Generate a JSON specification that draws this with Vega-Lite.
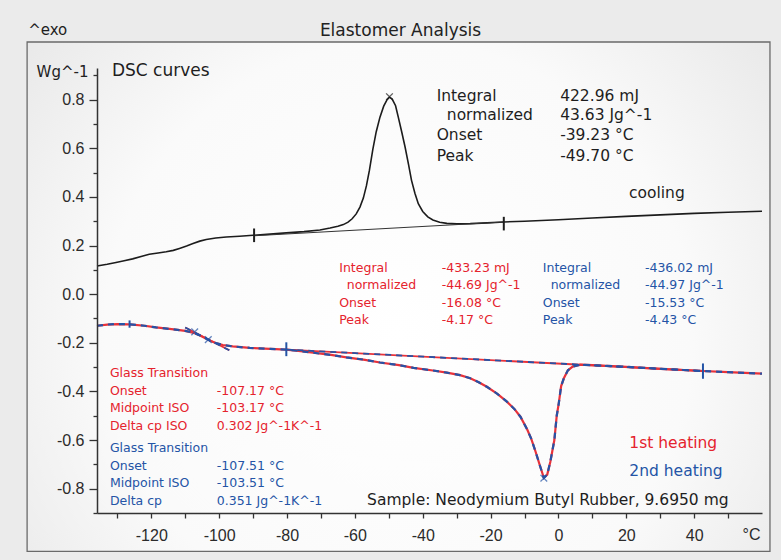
{
  "$schema": "https://vega.github.io/schema/vega-lite/v6.json",
  "width": 665,
  "height": 445,
  "autosize": {"type": "none"},
  "padding": {"left": 97, "top": 68, "right": 19, "bottom": 47},
  "background": "#ebebeb",
  "title": {"text": "Elastomer Analysis", "anchor": "middle", "frame": "group", "dx": -29, "offset": -17, "font": "DejaVu Sans", "fontSize": 17, "fontWeight": "normal", "color": "#222222"},
  "config": {"view": {"stroke": null}, "font": "DejaVu Sans"},
  "datasets": {
    "frame": [{"T": -156.6, "T2": 62.35, "hf": 1.037, "hf2": -1.058}],
    "cooling": [
      {"T": -136, "hf": 0.116}, {"T": -133, "hf": 0.123}, {"T": -130.4, "hf": 0.130}, {"T": -128, "hf": 0.137},
      {"T": -125.5, "hf": 0.145}, {"T": -123, "hf": 0.155}, {"T": -120.6, "hf": 0.164}, {"T": -118, "hf": 0.169},
      {"T": -115.6, "hf": 0.174}, {"T": -113.5, "hf": 0.180}, {"T": -111.7, "hf": 0.188}, {"T": -109.6, "hf": 0.198},
      {"T": -107.7, "hf": 0.208}, {"T": -105.7, "hf": 0.218}, {"T": -103.8, "hf": 0.225}, {"T": -101, "hf": 0.231},
      {"T": -97.9, "hf": 0.235}, {"T": -94, "hf": 0.238}, {"T": -90, "hf": 0.242}, {"T": -85, "hf": 0.247},
      {"T": -80.2, "hf": 0.252}, {"T": -75, "hf": 0.257}, {"T": -70.3, "hf": 0.264}, {"T": -67.3, "hf": 0.272},
      {"T": -65, "hf": 0.279}, {"T": -63.4, "hf": 0.286}, {"T": -62, "hf": 0.296}, {"T": -60.8, "hf": 0.310},
      {"T": -59.6, "hf": 0.330}, {"T": -58.5, "hf": 0.358}, {"T": -57.5, "hf": 0.395}, {"T": -56.6, "hf": 0.445},
      {"T": -55.7, "hf": 0.510}, {"T": -54.7, "hf": 0.595}, {"T": -53.7, "hf": 0.668}, {"T": -52.6, "hf": 0.728},
      {"T": -51.5, "hf": 0.773}, {"T": -50.5, "hf": 0.800}, {"T": -49.8, "hf": 0.810}, {"T": -49, "hf": 0.802},
      {"T": -48, "hf": 0.775}, {"T": -47.2, "hf": 0.728}, {"T": -46.2, "hf": 0.668}, {"T": -45.2, "hf": 0.605},
      {"T": -44.2, "hf": 0.535}, {"T": -43.3, "hf": 0.468}, {"T": -42.3, "hf": 0.415}, {"T": -41.3, "hf": 0.372},
      {"T": -40, "hf": 0.340}, {"T": -38.5, "hf": 0.318}, {"T": -37, "hf": 0.305}, {"T": -35, "hf": 0.296},
      {"T": -32.9, "hf": 0.291}, {"T": -30, "hf": 0.289}, {"T": -26, "hf": 0.290}, {"T": -21, "hf": 0.293},
      {"T": -16.1, "hf": 0.297}, {"T": -10, "hf": 0.300}, {"T": 0, "hf": 0.306}, {"T": 10, "hf": 0.313},
      {"T": 20, "hf": 0.320}, {"T": 30, "hf": 0.326}, {"T": 40, "hf": 0.332}, {"T": 50, "hf": 0.337}, {"T": 60, "hf": 0.341}
    ],
    "heating": [
      {"T": -136, "hf": -0.130}, {"T": -133, "hf": -0.125}, {"T": -130, "hf": -0.123}, {"T": -126.4, "hf": -0.124},
      {"T": -122, "hf": -0.130}, {"T": -118.6, "hf": -0.137}, {"T": -114, "hf": -0.144}, {"T": -110, "hf": -0.151},
      {"T": -107.5, "hf": -0.159}, {"T": -105.8, "hf": -0.169}, {"T": -104.2, "hf": -0.180}, {"T": -102.8, "hf": -0.191},
      {"T": -101, "hf": -0.201}, {"T": -98.9, "hf": -0.209}, {"T": -96, "hf": -0.215}, {"T": -91, "hf": -0.221},
      {"T": -85, "hf": -0.225}, {"T": -80.2, "hf": -0.228}, {"T": -76, "hf": -0.234}, {"T": -72.3, "hf": -0.241},
      {"T": -67, "hf": -0.250}, {"T": -62.5, "hf": -0.260}, {"T": -57, "hf": -0.270}, {"T": -52.6, "hf": -0.281},
      {"T": -47, "hf": -0.292}, {"T": -42.7, "hf": -0.303}, {"T": -37, "hf": -0.314}, {"T": -32.9, "hf": -0.323},
      {"T": -29, "hf": -0.333}, {"T": -26, "hf": -0.346}, {"T": -23.5, "hf": -0.362}, {"T": -21.1, "hf": -0.381},
      {"T": -18, "hf": -0.410}, {"T": -15.2, "hf": -0.442}, {"T": -13, "hf": -0.472}, {"T": -11.2, "hf": -0.504},
      {"T": -9.2, "hf": -0.557}, {"T": -8, "hf": -0.595}, {"T": -6.8, "hf": -0.645}, {"T": -5.3, "hf": -0.712},
      {"T": -4.3, "hf": -0.755}, {"T": -3.3, "hf": -0.742}, {"T": -2.4, "hf": -0.690}, {"T": -1.2, "hf": -0.600},
      {"T": -0.5, "hf": -0.500}, {"T": 0.1, "hf": -0.449}, {"T": 0.8, "hf": -0.378}, {"T": 1.6, "hf": -0.346},
      {"T": 2.8, "hf": -0.313}, {"T": 4.2, "hf": -0.298}, {"T": 6.5, "hf": -0.290}, {"T": 10, "hf": -0.292},
      {"T": 20, "hf": -0.299}, {"T": 30, "hf": -0.307}, {"T": 42.6, "hf": -0.316}, {"T": 50, "hf": -0.321}, {"T": 60, "hf": -0.327}
    ],
    "guides": [
      {"seg": "cbase", "T": -89.7, "hf": 0.240}, {"seg": "cbase", "T": -16.1, "hf": 0.297},
      {"seg": "hbase", "T": -80.2, "hf": -0.228}, {"seg": "hbase", "T": 42.6, "hf": -0.316},
      {"seg": "tg", "T": -110, "hf": -0.137}, {"seg": "tg", "T": -97, "hf": -0.231}
    ],
    "markers": [
      {"T": -89.7, "hf": 0.270, "hf2": 0.214, "tone": "black"},
      {"T": -16.1, "hf": 0.318, "hf2": 0.262, "tone": "black"},
      {"T": -126.4, "hf": -0.108, "hf2": -0.138, "tone": "blue"},
      {"T": -80.2, "hf": -0.198, "hf2": -0.255, "tone": "blue"},
      {"T": 42.6, "hf": -0.285, "hf2": -0.348, "tone": "blue"}
    ],
    "peaks": [
      {"T": -49.8, "hf": 0.812, "tone": "black"},
      {"T": -4.3, "hf": -0.757, "tone": "blue"},
      {"T": -107.2, "hf": -0.155, "tone": "blue"},
      {"T": -103.2, "hf": -0.187, "tone": "blue"}
    ],
    "labels": [
      {"text": "^exo", "T": -156.3, "hf": 1.086, "tone": "black", "style": "axis"},
      {"text": "DSC curves", "T": -131.6, "hf": 0.918, "tone": "black", "style": "head"},
      {"text": "Integral", "T": -35.9, "hf": 0.815, "tone": "black", "style": "main"},
      {"text": "normalized", "T": -32.9, "hf": 0.737, "tone": "black", "style": "main"},
      {"text": "Onset", "T": -35.9, "hf": 0.654, "tone": "black", "style": "main"},
      {"text": "Peak", "T": -35.9, "hf": 0.569, "tone": "black", "style": "main"},
      {"text": "422.96 mJ", "T": 0.5, "hf": 0.815, "tone": "black", "style": "main"},
      {"text": "43.63 Jg^-1", "T": 0.5, "hf": 0.737, "tone": "black", "style": "main"},
      {"text": "-39.23 °C", "T": 0.5, "hf": 0.654, "tone": "black", "style": "main"},
      {"text": "-49.70 °C", "T": 0.5, "hf": 0.569, "tone": "black", "style": "main"},
      {"text": "cooling", "T": 20.8, "hf": 0.416, "tone": "black", "style": "main"},
      {"text": "Integral", "T": -64.6, "hf": 0.106, "tone": "red", "style": "small"},
      {"text": "normalized", "T": -62.4, "hf": 0.038, "tone": "red", "style": "small"},
      {"text": "Onset", "T": -64.6, "hf": -0.035, "tone": "red", "style": "small"},
      {"text": "Peak", "T": -64.6, "hf": -0.106, "tone": "red", "style": "small"},
      {"text": "-433.23 mJ", "T": -34.4, "hf": 0.106, "tone": "red", "style": "small"},
      {"text": "-44.69 Jg^-1", "T": -34.4, "hf": 0.038, "tone": "red", "style": "small"},
      {"text": "-16.08 °C", "T": -34.4, "hf": -0.035, "tone": "red", "style": "small"},
      {"text": "-4.17 °C", "T": -34.4, "hf": -0.106, "tone": "red", "style": "small"},
      {"text": "Integral", "T": -4.6, "hf": 0.106, "tone": "blue", "style": "small"},
      {"text": "normalized", "T": -2.3, "hf": 0.038, "tone": "blue", "style": "small"},
      {"text": "Onset", "T": -4.6, "hf": -0.035, "tone": "blue", "style": "small"},
      {"text": "Peak", "T": -4.6, "hf": -0.106, "tone": "blue", "style": "small"},
      {"text": "-436.02 mJ", "T": 25.5, "hf": 0.106, "tone": "blue", "style": "small"},
      {"text": "-44.97 Jg^-1", "T": 25.5, "hf": 0.038, "tone": "blue", "style": "small"},
      {"text": "-15.53 °C", "T": 25.5, "hf": -0.035, "tone": "blue", "style": "small"},
      {"text": "-4.43 °C", "T": 25.5, "hf": -0.106, "tone": "blue", "style": "small"},
      {"text": "Glass Transition", "T": -132.2, "hf": -0.325, "tone": "red", "style": "small"},
      {"text": "Onset", "T": -132.2, "hf": -0.397, "tone": "red", "style": "small"},
      {"text": "Midpoint ISO", "T": -132.2, "hf": -0.469, "tone": "red", "style": "small"},
      {"text": "Delta cp ISO", "T": -132.2, "hf": -0.541, "tone": "red", "style": "small"},
      {"text": "-107.17 °C", "T": -100.7, "hf": -0.397, "tone": "red", "style": "small"},
      {"text": "-103.17 °C", "T": -100.7, "hf": -0.469, "tone": "red", "style": "small"},
      {"text": "0.302 Jg^-1K^-1", "T": -100.7, "hf": -0.541, "tone": "red", "style": "small"},
      {"text": "Glass Transition", "T": -132.2, "hf": -0.634, "tone": "blue", "style": "small"},
      {"text": "Onset", "T": -132.2, "hf": -0.705, "tone": "blue", "style": "small"},
      {"text": "Midpoint ISO", "T": -132.2, "hf": -0.778, "tone": "blue", "style": "small"},
      {"text": "Delta cp", "T": -132.2, "hf": -0.850, "tone": "blue", "style": "small"},
      {"text": "-107.51 °C", "T": -100.7, "hf": -0.705, "tone": "blue", "style": "small"},
      {"text": "-103.51 °C", "T": -100.7, "hf": -0.778, "tone": "blue", "style": "small"},
      {"text": "0.351 Jg^-1K^-1", "T": -100.7, "hf": -0.850, "tone": "blue", "style": "small"},
      {"text": "1st heating", "T": 20.9, "hf": -0.611, "tone": "red", "style": "legend"},
      {"text": "2nd heating", "T": 20.9, "hf": -0.726, "tone": "blue", "style": "legend"},
      {"text": "Sample: Neodymium Butyl Rubber, 9.6950 mg", "T": -56.4, "hf": -0.846, "tone": "black", "style": "main"}
    ]
  },
  "encoding": {
    "x": {
      "field": "T", "type": "quantitative",
      "scale": {"domain": [-136, 60], "nice": false, "zero": false},
      "axis": {
        "title": "°C", "grid": false, "zindex": 1,
        "values": [-130, -120, -110, -100, -90, -80, -70, -60, -50, -40, -30, -20, -10, 0, 10, 20, 30, 40, 50],
        "labelExpr": "datum.value % 20 == 0 ? replace(format(datum.value, 'd'), '\u2212', '-') : ''",
        "tickSize": 5, "tickWidth": 1.3, "tickColor": "#333333",
        "domainColor": "#333333", "domainWidth": 1.5,
        "labelPadding": 9, "labelFont": "Liberation Sans", "labelFontSize": 16, "labelColor": "#2b2b2b",
        "labelFlush": false, "labelOverlap": false,
        "titleFont": "Liberation Sans", "titleFontSize": 16, "titleFontWeight": "normal", "titleColor": "#2b2b2b",
        "titleX": 654, "titleY": 21, "titleAlign": "center", "titleBaseline": "middle"
      }
    },
    "y": {
      "field": "hf", "type": "quantitative",
      "scale": {"domain": [-0.9, 0.93], "nice": false, "zero": false},
      "axis": {
        "title": "Wg^-1", "grid": false, "zindex": 1,
        "values": [-0.9, -0.8, -0.7, -0.6, -0.5, -0.4, -0.3, -0.2, -0.1, 0, 0.1, 0.2, 0.3, 0.4, 0.5, 0.6, 0.7, 0.8, 0.9],
        "labelExpr": "(abs(round(datum.value * 10)) % 2 == 0 && abs(datum.value) < 0.85) ? replace(format(datum.value, '.1f'), '\u2212', '-') : ''",
        "tickSize": {"condition": {"test": "abs(round(datum.value * 10)) % 2 == 0", "value": 8}, "value": 4},
        "tickWidth": 1.3, "tickColor": "#333333",
        "domainColor": "#333333", "domainWidth": 1.5,
        "labelPadding": 5, "labelFont": "Liberation Sans", "labelFontSize": 16, "labelColor": "#2b2b2b",
        "labelFlush": false, "labelOverlap": false,
        "titleFont": "DejaVu Sans", "titleFontSize": 15, "titleFontWeight": "normal", "titleColor": "#222222",
        "titleAngle": 0, "titleX": -9, "titleY": 3, "titleAlign": "right", "titleBaseline": "middle"
      }
    }
  },
  "layer": [
    {
      "data": {"name": "frame"},
      "mark": {
        "type": "rect", "stroke": "#6a6a6a", "strokeWidth": 1.3,
        "fill": {"gradient": "radial", "x1": 0.5, "y1": 0.55, "r1": 0, "x2": 0.5, "y2": 0.55, "r2": 0.72,
          "stops": [{"offset": 0, "color": "#ffffff"}, {"offset": 0.55, "color": "#fafafa"}, {"offset": 1, "color": "#e3e3e3"}]}
      },
      "encoding": {"x2": {"field": "T2"}, "y2": {"field": "hf2"}}
    },
    {
      "data": {"name": "cooling"},
      "mark": {"type": "line", "color": "#1c1c1c", "strokeWidth": 1.6},
      "encoding": {}
    },
    {
      "data": {"name": "guides"},
      "transform": [{"filter": "datum.seg == 'cbase'"}],
      "mark": {"type": "line", "color": "#333333", "strokeWidth": 1.1},
      "encoding": {}
    },
    {
      "data": {"name": "heating"},
      "mark": {"type": "line", "color": "#e8323a", "strokeWidth": 2.2},
      "encoding": {}
    },
    {
      "data": {"name": "guides"},
      "transform": [{"filter": "datum.seg != 'cbase'"}],
      "mark": {"type": "line", "color": "#e8323a", "strokeWidth": 1.8},
      "encoding": {"detail": {"field": "seg"}}
    },
    {
      "data": {"name": "heating"},
      "mark": {"type": "line", "color": "#2653a6", "strokeWidth": 2.2, "strokeDash": [6, 5]},
      "encoding": {}
    },
    {
      "data": {"name": "guides"},
      "transform": [{"filter": "datum.seg != 'cbase'"}],
      "mark": {"type": "line", "color": "#2653a6", "strokeWidth": 1.8, "strokeDash": [6, 5]},
      "encoding": {"detail": {"field": "seg"}}
    },
    {
      "data": {"name": "markers"},
      "mark": {"type": "rule", "strokeWidth": 2},
      "encoding": {
        "y2": {"field": "hf2"},
        "color": {"field": "tone", "type": "nominal", "scale": {"domain": ["black", "red", "blue"], "range": ["#1e1e1e", "#e5232d", "#2454a6"]}, "legend": null}
      }
    },
    {
      "data": {"name": "peaks"},
      "mark": {"type": "point", "shape": "M-1,-1L1,1M-1,1L1,-1", "filled": false, "size": 45, "strokeWidth": 1.3},
      "encoding": {
        "color": {"field": "tone", "type": "nominal", "scale": {"domain": ["black", "red", "blue"], "range": ["#1e1e1e", "#e5232d", "#2454a6"]}, "legend": null}
      }
    },
    {
      "data": {"name": "labels"},
      "mark": {"type": "text", "align": "left", "baseline": "middle", "font": "DejaVu Sans"},
      "encoding": {
        "text": {"field": "text"},
        "color": {"field": "tone", "type": "nominal", "scale": {"domain": ["black", "red", "blue"], "range": ["#1e1e1e", "#e5232d", "#2454a6"]}, "legend": null},
        "size": {"field": "style", "type": "ordinal", "scale": {"type": "ordinal", "domain": ["head", "axis", "main", "legend", "small"], "range": [17, 15, 15.5, 15.5, 12.5]}, "legend": null}
      }
    }
  ]
}
